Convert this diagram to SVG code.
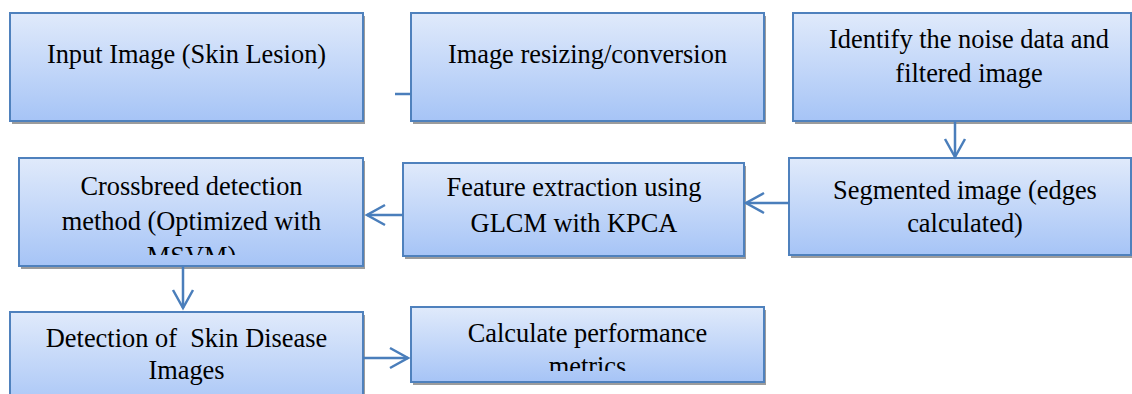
<svg xmlns="http://www.w3.org/2000/svg" width="1132" height="394" viewBox="0 0 1132 394">
<style>
.box{fill:url(#g);stroke:#4f81bd;stroke-width:2}
.sh{fill:#9c9c9c}
.t{font-family:"Liberation Serif","Times New Roman",serif;font-size:26.4px;fill:#000;text-anchor:middle;white-space:pre}
.c{stroke:#4a7ebb;stroke-width:2.5;fill:none}
</style>
<defs>
<linearGradient id="g" x1="0" y1="0" x2="0" y2="1">
<stop offset="0" stop-color="#e0eafb"/>
<stop offset="1" stop-color="#a6c4f6"/>
</linearGradient>
<marker id="ah" markerUnits="userSpaceOnUse" markerWidth="24" markerHeight="24" viewBox="-20 -12 24 24" refX="0" refY="0" orient="auto">
<path d="M-18,-10 L0,0 L-18,10" fill="none" stroke="#4a7ebb" stroke-width="2.5"/>
</marker>
<clipPath id="c6"><rect x="19" y="158" width="344" height="97"/></clipPath>
<clipPath id="c8"><rect x="411" y="307" width="353" height="64"/></clipPath>
</defs>
<g id="n1">
<rect class="sh" x="12" y="16" width="353" height="108"/>
<rect class="box" x="10" y="13" width="353" height="108"/>
<text class="t" x="186.5" y="63">Input Image (Skin Lesion)</text>
</g>
<g id="n2">
<rect class="sh" x="413" y="16" width="353" height="108"/>
<rect class="box" x="411" y="13" width="353" height="108"/>
<text class="t" x="587.5" y="63">Image resizing/conversion</text>
</g>
<g id="n3">
<rect class="sh" x="795" y="16" width="338" height="108"/>
<rect class="box" x="793" y="13" width="338" height="108"/>
<text class="t" x="969" y="48">Identify the noise data and</text>
<text class="t" x="969" y="82">filtered image</text>
</g>
<g id="n4">
<rect class="sh" x="791" y="161" width="342" height="97"/>
<rect class="box" x="789" y="158" width="342" height="97"/>
<text class="t" x="965" y="199">Segmented image (edges</text>
<text class="t" x="965" y="232">calculated)</text>
</g>
<g id="n5">
<rect class="sh" x="405" y="166" width="341" height="93"/>
<rect class="box" x="403" y="163" width="341" height="93"/>
<text class="t" x="574" y="196">Feature extraction using</text>
<text class="t" x="574" y="232">GLCM with KPCA</text>
</g>
<g id="n6">
<rect class="sh" x="21" y="161" width="344" height="108"/>
<rect class="box" x="19" y="158" width="344" height="108"/>
<g clip-path="url(#c6)">
<text class="t" x="191.5" y="195">Crossbreed detection</text>
<text class="t" x="191.5" y="230">method (Optimized with</text>
<text class="t" x="191.5" y="265">MSVM)</text>
</g>
</g>
<g id="n7">
<rect class="sh" x="12" y="315" width="353" height="100"/>
<rect class="box" x="10" y="312" width="353" height="100"/>
<text class="t" x="186.5" y="347">Detection of  Skin Disease</text>
<text class="t" x="186.5" y="379">Images</text>
</g>
<g id="n8">
<rect class="sh" x="413" y="310" width="353" height="75"/>
<rect class="box" x="411" y="307" width="353" height="75"/>
<g clip-path="url(#c8)">
<text class="t" x="587.5" y="342">Calculate performance</text>
<text class="t" x="587.5" y="375">metrics</text>
</g>
</g>
<g id="connectors">
<line class="c" x1="395" y1="94" x2="411" y2="94"/>
<line class="c" x1="955" y1="122" x2="955" y2="157" marker-end="url(#ah)"/>
<line class="c" x1="789" y1="203" x2="746" y2="203" marker-end="url(#ah)"/>
<line class="c" x1="403" y1="215" x2="367" y2="215" marker-end="url(#ah)"/>
<line class="c" x1="183" y1="267" x2="183" y2="308" marker-end="url(#ah)"/>
<line class="c" x1="363" y1="358" x2="408" y2="358" marker-end="url(#ah)"/>
</g>
</svg>
